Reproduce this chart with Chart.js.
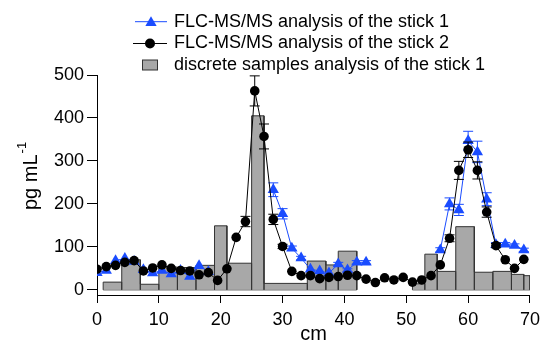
<!DOCTYPE html>
<html><head><meta charset="utf-8">
<script src="https://cdn.jsdelivr.net/npm/chart.js@4.4.1/dist/chart.umd.min.js"></script>
<style>html,body{margin:0;padding:0;background:#fff;} #wrap{width:546px;height:341px;}</style>
</head><body><div id="wrap"><canvas id="c" width="546" height="341"></canvas></div>
<script>
// ---- data ----
const positions = [0,1.5,3,4.5,6,7.5,9,10.5,12,13.5,15,16.5,18,19.5,21,22.5,24,25.5,27,28.5,30,31.5,33,34.5,36,37.5,39,40.5,42,43.5,45,46.5,48,49.5,51,52.5,54,55.5,57,58.5,60,61.5,63,64.5,66,67.5,69];
const stick1Values = [40,45,68,73,66,47,39,45,37,45,31,56,42,null,null,null,null,null,null,233,177,97,74,48,44,39,60,46,64,64,null,null,null,null,null,null,null,93,200,186,347,321,211,105,106,103,93];
const stick1Errors = [0,0,0,0,0,0,0,0,0,0,0,0,0,0,0,0,0,0,0,16,12,5,4,0,0,0,4,3,4,4,0,0,0,0,0,0,0,5,14,13,22,25,15,5,4,4,4];
const stick2Values = [48,54,57,64,68,44,51,58,50,45,44,35,40,22,49,122,159,463,357,164,101,43,33,33,26,29,31,34,33,25,17,28,23,29,18,23,33,58,120,278,326,278,181,103,70,50,71];
const stick2Errors = [0,0,0,0,0,0,0,0,0,0,0,0,0,0,0,0,12,35,29,12,5,0,0,0,0,0,0,0,0,0,0,0,0,0,0,0,0,0,8,21,18,20,12,5,0,0,0];
const binLeft   = [1,4,7,10,13,16,19,21,25,27,34,37,39,51,53,55,58,61,64,67,69];
const binRight  = [4,7,10,13,16,19,21,25,27,34,37,39,42,53,55,58,61,64,67,69,70];
const binValues = [18,70,13,53,52,57,149,62,405,15,67,58,90,14,83,43,147,41,43,36,33];
const xTicks = [0,10,20,30,40,50,60,70];
const yTicks = [0,100,200,300,400,500];
const legendLabels = ['FLC-MS/MS analysis of the stick 1','FLC-MS/MS analysis of the stick 2','discrete samples analysis of the stick 1'];
const xTitle = 'cm';
const yTitle = 'pg mL';
const yTitleSup = '-1';

const FONT = 'Liberation Sans, Arial, Helvetica, sans-serif';
const BLUE = '#1a4cff';
const GREY = '#a8a8a8';

// build series points
const s1 = positions.map((x,i)=>({x:x, y:stick1Values[i]}));
const s2 = positions.map((x,i)=>({x:x, y:stick2Values[i]}));
const histPoints = [], basePoints = [];
for (let i=0;i<binValues.length;i++){
  const newGroup = i===0 || binLeft[i] !== binRight[i-1];
  if (newGroup && i>0){
    const mid = (binRight[i-1]+binLeft[i])/2;
    histPoints.push({x:mid, y:null});
    basePoints.push({x:binRight[i-1], y:0});
    basePoints.push({x:mid, y:null});
  }
  if (newGroup) basePoints.push({x:binLeft[i], y:0});
  histPoints.push({x:binLeft[i],y:0},{x:binLeft[i],y:binValues[i]},{x:binRight[i],y:binValues[i]},{x:binRight[i],y:0});
}
basePoints.push({x:binRight[binRight.length-1], y:0});

const errorBarPlugin = {
  id:'errorBars',
  beforeDatasetDraw(chart, args){
    const ds = chart.data.datasets[args.index];
    if (!ds.errors) return;
    const meta = args.meta, yScale = chart.scales.y, ctx = chart.ctx;
    ctx.save();
    ctx.strokeStyle = ds.borderColor; ctx.lineWidth = 1;
    ds.data.forEach((p,i)=>{
      const e = ds.errors[i];
      if (p.y == null || !e) return;
      const x = meta.data[i].x;
      const yt = yScale.getPixelForValue(p.y+e), yb = yScale.getPixelForValue(p.y-e);
      ctx.beginPath();
      ctx.moveTo(x,yt); ctx.lineTo(x,yb);
      ctx.moveTo(x-5,yt); ctx.lineTo(x+5,yt);
      ctx.moveTo(x-5,yb); ctx.lineTo(x+5,yb);
      ctx.stroke();
    });
    ctx.restore();
  }
};

function triangle(ctx,x,y,r){
  ctx.beginPath();
  ctx.moveTo(x, y - r);
  ctx.lineTo(x + r*Math.sin(Math.PI*2/3), y - r*Math.cos(Math.PI*2/3));
  ctx.lineTo(x - r*Math.sin(Math.PI*2/3), y - r*Math.cos(Math.PI*2/3));
  ctx.closePath();
}

const decorPlugin = {
  id:'decor',
  afterDraw(chart){
    const ctx = chart.ctx;
    ctx.save();
    // legend
    const rows = [21.7, 43.5, 65];
    ctx.font = '18px ' + FONT;
    ctx.fillStyle = '#000';
    ctx.textBaseline = 'middle';
    ctx.textAlign = 'left';
    // row 1
    ctx.strokeStyle = BLUE; ctx.lineWidth = 1;
    ctx.beginPath(); ctx.moveTo(135, rows[0]); ctx.lineTo(167, rows[0]); ctx.stroke();
    triangle(ctx, 151, rows[0]+1, 6.5); ctx.fillStyle = BLUE; ctx.fill();
    // row 2
    ctx.strokeStyle = '#000';
    ctx.beginPath(); ctx.moveTo(133, rows[1]); ctx.lineTo(167, rows[1]); ctx.stroke();
    ctx.beginPath(); ctx.arc(150, rows[1], 5, 0, Math.PI*2); ctx.fillStyle = '#000'; ctx.fill();
    // row 3
    ctx.fillStyle = GREY; ctx.fillRect(142.5, rows[2]-5, 15, 10);
    ctx.strokeStyle = '#333'; ctx.strokeRect(142.5, rows[2]-5, 15, 10);
    ctx.fillStyle = '#000';
    legendLabels.forEach((t,i)=>ctx.fillText(t, 174, rows[i]));
    // y title
    ctx.translate(37, 210);
    ctx.rotate(-Math.PI/2);
    ctx.textBaseline = 'alphabetic';
    ctx.font = '20px ' + FONT;
    ctx.fillText(yTitle, 0, 0);
    const w = ctx.measureText(yTitle).width;
    ctx.font = '13px ' + FONT;
    ctx.fillText(yTitleSup, w + 1, -11);
    ctx.restore();
  }
};

Chart.defaults.font.family = FONT;
Chart.defaults.color = '#000';

new Chart(document.getElementById('c'), {
  type:'line',
  data:{ datasets:[
    { label:legendLabels[1], data:s2, errors:stick2Errors, borderColor:'#000', backgroundColor:'#000', borderWidth:1,
      pointStyle:'circle', pointRadius:4.8, pointBorderWidth:0, pointBackgroundColor:'#000', order:0, tension:0, spanGaps:false },
    { label:legendLabels[0], data:s1, errors:stick1Errors, borderColor:BLUE, backgroundColor:BLUE, borderWidth:1,
      pointStyle:'triangle', pointRadius:6.5, pointBorderWidth:0, pointBackgroundColor:BLUE, order:1, tension:0, spanGaps:false },
    { label:legendLabels[2], data:histPoints, borderColor:'#333', backgroundColor:GREY, borderWidth:1,
      pointRadius:0, fill:'origin', order:2, tension:0, spanGaps:false },
    { label:'baseline', data:basePoints, borderColor:'#333', borderWidth:1, pointRadius:0, fill:false, order:3, spanGaps:false }
  ]},
  options:{
    responsive:false, animation:false, devicePixelRatio:1,
    layout:{ padding:{ top:75, right:12, left:0, bottom:0 } },
    plugins:{ legend:{display:false}, tooltip:{enabled:false} },
    scales:{
      x:{ type:'linear', min:0, max:70,
        afterBuildTicks(s){ s.ticks = xTicks.map(v=>({value:v})); },
        afterFit(s){ s.height = 46; },
        grid:{ display:true, drawOnChartArea:false, drawTicks:true, tickLength:8, color:'#000' },
        border:{ display:true, color:'#000', width:1 },
        ticks:{ font:{size:18}, padding:6, maxRotation:0, autoSkip:false },
        title:{ display:true, text:xTitle, font:{size:20, lineHeight:1}, padding:{top:0,bottom:-3} }
      },
      y:{ type:'linear', min:-12, max:500,
        afterBuildTicks(s){ s.ticks = yTicks.map(v=>({value:v})); },
        afterFit(s){ s.width = 97; },
        grid:{ display:true, drawOnChartArea:false, drawTicks:true, tickLength:10, color:'#000' },
        border:{ display:true, color:'#000', width:1 },
        ticks:{ font:{size:18}, padding:3 }
      }
    }
  },
  plugins:[errorBarPlugin, decorPlugin]
});
</script></body></html>
